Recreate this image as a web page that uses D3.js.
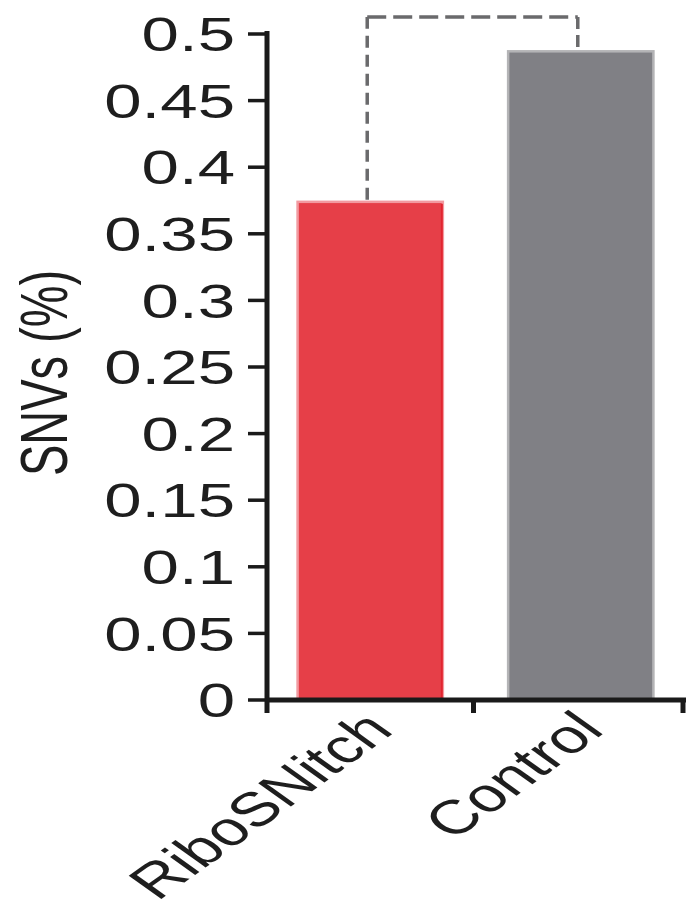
<!DOCTYPE html>
<html>
<head>
<meta charset="utf-8">
<script src="https://cdn.jsdelivr.net/npm/d3@7"></script>
<style>
  html, body { margin: 0; padding: 0; background: #fff; }
  svg { display: block; }
  text { font-family: "Liberation Sans", Arial, sans-serif; fill: #1e1e1e; }
</style>
</head>
<body>
<svg id="chart" width="692" height="915"></svg>
<script>
// ---- data ----
const categories = ["RiboSNitch", "Control"];
const values = [0.374, 0.487];
const yTicks = [0, 0.05, 0.1, 0.15, 0.2, 0.25, 0.3, 0.35, 0.4, 0.45, 0.5];
const yTickLabels = ["0", "0.05", "0.1", "0.15", "0.2", "0.25", "0.3", "0.35", "0.4", "0.45", "0.5"];
const yLabel = "SNVs (%)";

// ---- layout ----
const svg = d3.select("#chart");
const stretch = 1.4;           // horizontal text stretch seen in the reference
const axisX = 267, axisY = 700;

const x = d3.scaleBand().domain(categories).range([266, 685])
  .paddingInner(0.31).paddingOuter(0.15);
const y = d3.scaleLinear().domain([0, 0.5]).range([700, 34]);

const fills = ["#e63f48", "#808085"];
const edges = ["#f29aa0", "#b4b4b6"];

// bars
svg.selectAll("rect.bar").data(categories).enter().append("rect")
  .attr("class", "bar")
  .attr("x", d => x(d))
  .attr("y", (d, i) => y(values[i]))
  .attr("width", x.bandwidth())
  .attr("height", (d, i) => y(0) - y(values[i]))
  .attr("fill", (d, i) => fills[i])
  .attr("stroke", (d, i) => edges[i])
  .attr("stroke-width", 2.5);

// darker right edge on red bar
svg.append("line")
  .attr("x1", x(categories[0]) + x.bandwidth() - 1).attr("x2", x(categories[0]) + x.bandwidth() - 1)
  .attr("y1", y(values[0]) + 2).attr("y2", y(0))
  .attr("stroke", "#e2242f").attr("stroke-width", 2);

// dashed bracket
const cx0 = x(categories[0]) + x.bandwidth() / 2 - 3;
const cx1 = x(categories[1]) + x.bandwidth() / 2 - 3;
const topY = 17;
const dashStyle = { stroke: "#6a6a6c", "stroke-width": 3.5 };
function dline(x1, y1, x2, y2, dash) {
  const l = svg.append("line").attr("x1", x1).attr("y1", y1).attr("x2", x2).attr("y2", y2)
    .attr("stroke-dasharray", dash).attr("fill", "none");
  Object.entries(dashStyle).forEach(([k, v]) => l.attr(k, v));
}
dline(cx0, y(values[0]) - 2, cx0, topY, "12,7");
dline(cx0, topY, cx1, topY, "19,7");
dline(cx1, topY, cx1, y(values[1]), "12,6");

// y axis
const axisColor = "#1a1a1a";
svg.append("line").attr("x1", axisX).attr("x2", axisX).attr("y1", 31).attr("y2", 713)
  .attr("stroke", axisColor).attr("stroke-width", 5);
svg.selectAll("line.ytick").data(yTicks).enter().append("line")
  .attr("class", "ytick")
  .attr("x1", 248).attr("x2", axisX)
  .attr("y1", d => y(d)).attr("y2", d => y(d))
  .attr("stroke", axisColor).attr("stroke-width", 3.5);
svg.selectAll("g.ylab").data(yTicks).enter().append("g")
  .attr("class", "ylab")
  .attr("transform", d => `translate(235,${y(d)}) scale(${stretch},1)`)
  .append("text")
  .attr("text-anchor", "end")
  .attr("dy", "0.36em")
  .attr("font-size", 48)
  .text((d, i) => yTickLabels[i]);

// x axis
svg.append("line").attr("x1", axisX).attr("x2", 686).attr("y1", axisY).attr("y2", axisY)
  .attr("stroke", axisColor).attr("stroke-width", 5);
const gapMid = (x(categories[0]) + x.bandwidth() + x(categories[1])) / 2 - 2;
[gapMid, 683].forEach(t => {
  svg.append("line").attr("x1", t).attr("x2", t).attr("y1", axisY).attr("y2", 713)
    .attr("stroke", axisColor).attr("stroke-width", 5);
});

// x labels
svg.selectAll("g.xlab").data(categories).enter().append("g")
  .attr("class", "xlab")
  .attr("transform", d => `translate(${x(d) + x.bandwidth() / 2 + 25},732) scale(${stretch},1) rotate(-45)`)
  .append("text")
  .attr("text-anchor", "end")
  .attr("font-size", 48)
  .text(d => d);

// y label
svg.append("g")
  .attr("transform", `translate(67,373) scale(${stretch},1) rotate(-90)`)
  .append("text")
  .attr("text-anchor", "middle")
  .attr("font-size", 47)
  .text(yLabel);
</script>
</body>
</html>
